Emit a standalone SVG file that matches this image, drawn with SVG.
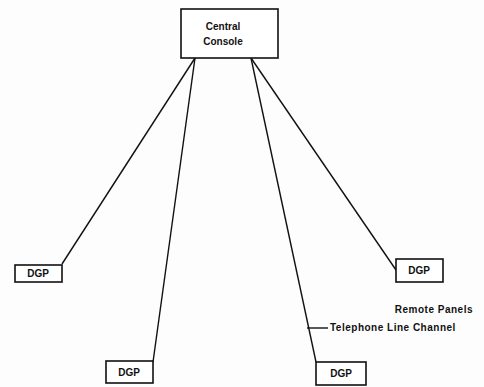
<svg xmlns="http://www.w3.org/2000/svg" width="484" height="387" viewBox="0 0 484 387">
<style>
.box{fill:#fff;stroke:#111;stroke-width:1.6}
.ln{stroke:#111;stroke-width:1.4;fill:none}
.t{font-family:"Liberation Sans",Arial,sans-serif;font-weight:bold;fill:#111;font-size:10px}
.s{font-family:"Liberation Sans",Arial,sans-serif;font-weight:bold;fill:#111;font-size:10px;letter-spacing:0.5px}
</style>
<rect width="484" height="387" fill="#fdfdfd"/>
<g id="connectors">
<line class="ln" x1="195" y1="58" x2="62" y2="264"/>
<line class="ln" x1="195" y1="58" x2="153" y2="362"/>
<line class="ln" x1="251" y1="58" x2="396" y2="270"/>
<line class="ln" x1="251" y1="58" x2="316" y2="362"/>
<line class="ln" x1="307" y1="328" x2="328" y2="328"/>
</g>
<g id="central">
<rect class="box" x="181" y="9" width="97" height="49"/>
<text class="t" x="223" y="30" text-anchor="middle">Central</text>
<text class="t" x="223" y="45" text-anchor="middle">Console</text>
</g>
<g id="dgp-left">
<rect class="box" x="15" y="265" width="47" height="17"/>
<text class="t" x="38" y="277" text-anchor="middle">DGP</text>
</g>
<g id="dgp-right">
<rect class="box" x="396" y="259" width="47" height="23"/>
<text class="t" x="419" y="274" text-anchor="middle">DGP</text>
</g>
<g id="dgp-bottom-left">
<rect class="box" x="106" y="361" width="47" height="22"/>
<text class="t" x="129" y="376" text-anchor="middle">DGP</text>
</g>
<g id="dgp-bottom-right">
<rect class="box" x="316" y="362" width="50" height="23"/>
<text class="t" x="341" y="377" text-anchor="middle">DGP</text>
</g>
<g id="labels">
<text class="s" x="473" y="313" text-anchor="end">Remote Panels</text>
<text class="s" x="330" y="331">Telephone Line Channel</text>
</g>
</svg>
